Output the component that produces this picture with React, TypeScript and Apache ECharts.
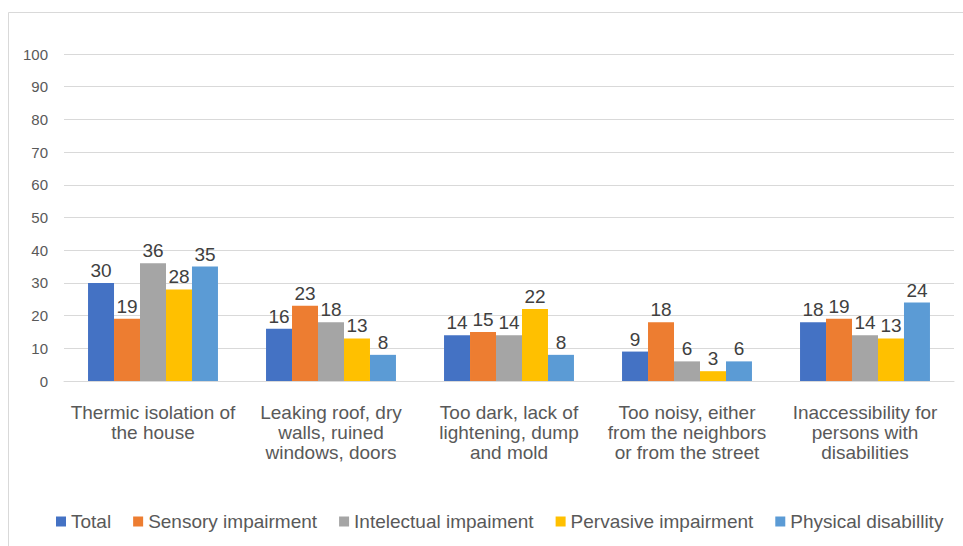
import React, { useEffect, useRef } from "react";
import * as echarts from "echarts";

const categories = [
  "Thermic isolation of\nthe house",
  "Leaking roof, dry\nwalls, ruined\nwindows, doors",
  "Too dark, lack of\nlightening, dump\nand mold",
  "Too noisy, either\nfrom the neighbors\nor from the street",
  "Inaccessibility for\npersons with\ndisabilities",
];
const seriesNames = [
  "Total",
  "Sensory impairment",
  "Intelectual impaiment",
  "Pervasive impairment",
  "Physical disabillity",
];
const total = [30, 16, 14, 9, 18];
const sensory = [19, 23, 15, 18, 19];
const intellectual = [36, 18, 14, 6, 14];
const pervasive = [28, 13, 22, 3, 13];
const physical = [35, 8, 8, 6, 24];
const colors = ["#4472C4", "#ED7D31", "#A5A5A5", "#FFC000", "#5B9BD5"];

const FONT = "'Liberation Sans', Arial, sans-serif";

export default function App() {
  const ref = useRef<HTMLDivElement>(null);
  useEffect(() => {
    if (!ref.current) return;
    const chart = echarts.init(ref.current, undefined, { renderer: "svg" });
    const values = [total, sensory, intellectual, pervasive, physical];
    chart.setOption({
      animation: false,
      backgroundColor: "#ffffff",
      textStyle: { fontFamily: FONT },
      graphic: [
        { type: "line", shape: { x1: 8.5, y1: 12.5, x2: 963, y2: 12.5 }, style: { stroke: "#d9d9d9", lineWidth: 1 } },
        { type: "line", shape: { x1: 8.5, y1: 12.5, x2: 8.5, y2: 546 }, style: { stroke: "#d9d9d9", lineWidth: 1 } },
      ],
      grid: { left: 64, right: 9, top: 54, bottom: 165, containLabel: false },
      legend: {
        bottom: 10,
        left: 51,
        itemWidth: 10,
        itemHeight: 10,
        itemGap: 22,
        icon: "rect",
        textStyle: { fontSize: 19, color: "#595959", fontFamily: FONT, padding: [0, 0, 0, 0] },
        data: seriesNames,
      },
      xAxis: {
        type: "category",
        data: categories,
        axisLine: { lineStyle: { color: "#d9d9d9" } },
        axisTick: { show: false },
        axisLabel: { fontSize: 19, color: "#595959", lineHeight: 20, margin: 21, interval: 0, fontFamily: FONT },
      },
      yAxis: {
        type: "value",
        min: 0,
        max: 100,
        interval: 10,
        axisLine: { show: false },
        axisTick: { show: false },
        axisLabel: { fontSize: 15, color: "#595959", margin: 16, fontFamily: FONT },
        splitLine: { lineStyle: { color: "#d9d9d9", width: 1 } },
      },
      series: seriesNames.map((name, i) => ({
        name,
        type: "bar",
        data: values[i],
        barGap: "0%",
        barCategoryGap: "27%",
        itemStyle: { color: colors[i] },
        label: {
          show: true,
          position: "top",
          distance: 3,
          fontSize: 19,
          color: "#404040",
          fontFamily: FONT,
        },
      })),
    });
    return () => chart.dispose();
  }, []);
  return (
    <div
      ref={ref}
      style={{ position: "absolute", left: 0, top: 0, width: 963, height: 546 }}
    />
  );
}
